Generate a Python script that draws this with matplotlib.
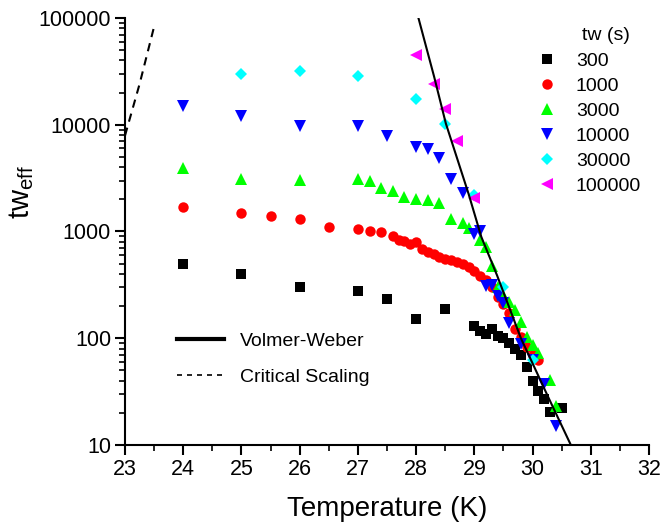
import numpy as np
import matplotlib
matplotlib.use('Agg')
import matplotlib.pyplot as plt
from matplotlib.ticker import FixedLocator, FixedFormatter, MultipleLocator, NullFormatter
from matplotlib.lines import Line2D

plt.rcParams['font.family'] = ['Liberation Sans', 'DejaVu Sans']
plt.rcParams['mathtext.fontset'] = 'custom'
plt.rcParams['mathtext.rm'] = 'Liberation Sans'

# waiting times tw (s) and their data
T300 = [24, 25, 26, 27, 27.5, 28, 28.5, 29.0, 29.1, 29.2, 29.3, 29.4, 29.5, 29.6,
        29.7, 29.8, 29.9, 30.0, 30.1, 30.2, 30.3, 30.5]
tw300 = [500, 400, 300, 275, 232, 150, 186, 131, 117, 110, 121, 106, 101, 91,
         79, 69, 54, 40, 32, 27, 20.5, 22]

T1000 = [24, 25, 25.5, 26, 26.5, 27, 27.2, 27.4, 27.6, 27.7, 27.8, 27.9, 28.0, 28.1,
         28.2, 28.3, 28.4, 28.5, 28.6, 28.7, 28.8, 28.9, 29.0, 29.1, 29.2, 29.3,
         29.4, 29.5, 29.6, 29.7, 29.8, 29.9, 30.0, 30.1]
tw1000 = [1700, 1500, 1400, 1300, 1100, 1050, 1010, 985, 900, 830, 810, 760, 790, 690,
          640, 610, 580, 550, 540, 520, 500, 465, 425, 385, 350, 300,
          243, 211, 172, 121, 102, 83, 69, 62]

T3000 = [24, 25, 26, 27, 27.2, 27.4, 27.6, 27.8, 28.0, 28.2, 28.4, 28.6, 28.8, 28.9,
         29.1, 29.2, 29.3, 29.4, 29.5, 29.6, 29.7, 29.8, 29.9, 30.0, 30.1, 30.3, 30.4]
tw3000 = [3900, 3100, 3050, 3100, 2950, 2560, 2420, 2110, 2000, 1960, 1850, 1320, 1200, 1090,
          830, 710, 475, 300, 252, 218, 182, 142, 102, 86, 72, 41, 23]

T10000 = [24, 25, 26, 27, 27.5, 28.0, 28.2, 28.4, 28.6, 28.8, 29.0, 29.1, 29.2, 29.3,
          29.4, 29.5, 29.6, 29.8, 30.0, 30.2, 30.4]
tw10000 = [15000, 12000, 9800, 9800, 7900, 6200, 5900, 4900, 3100, 2300, 950, 1010, 306, 313,
           247, 214, 139, 88, 63, 37, 15]

T30000 = [25, 26, 27, 28, 28.5, 29, 29.5, 30.0]
tw30000 = [30000, 32000, 28800, 17300, 10100, 2200, 300, 62]

T100000 = [28, 28.3, 28.5, 28.7, 29]
tw100000 = [45000, 24000, 14000, 7000, 2050]

# guide curves
T_vw = [28.04, 28.31, 28.51, 28.90, 29.12, 29.39, 29.80, 30.27, 30.65]
tw_vw = [100000, 28100, 10300, 2260, 890, 388, 100, 28, 10.2]
T_cs = [23.0, 23.25, 23.5]
tw_cs = [7900, 24000, 83000]

series = [
    (T300, tw300, '300', 's', 'black', 6.5),
    (T1000, tw1000, '1000', 'o', 'red', 7.5),
    (T3000, tw3000, '3000', '^', '#00ff00', 8),
    (T10000, tw10000, '10000', 'v', 'blue', 8),
    (T30000, tw30000, '30000', 'D', 'cyan', 6.5),
    (T100000, tw100000, '100000', '<', 'magenta', 8),
]

fig = plt.figure(figsize=(6.62, 5.25), dpi=100)
ax = fig.add_axes([0.1888, 0.1524, 0.7916, 0.8133])

handles = []
for T, tw, lab, m, c, ms in series:
    h, = ax.plot(T, tw, linestyle='none', marker=m, color=c, markersize=ms,
                 markeredgewidth=0, label=lab)
    handles.append(h)

vw, = ax.plot(T_vw, tw_vw, color='black', lw=1.5)
cs, = ax.plot(T_cs, tw_cs, color='black', lw=1.5, dashes=(4, 3))

ax.set_yscale('log')
ax.set_xlim(23, 32)
ax.set_ylim(10, 100000)
ax.spines['top'].set_color('none')
ax.spines['right'].set_color('none')
ax.spines['left'].set_linewidth(1.5)
ax.spines['bottom'].set_linewidth(1.5)

ax.xaxis.set_major_locator(MultipleLocator(1))
ax.xaxis.set_minor_locator(MultipleLocator(0.5))
yt = [10, 100, 1000, 10000, 100000]
ax.yaxis.set_major_locator(FixedLocator(yt))
ax.yaxis.set_major_formatter(FixedFormatter([str(v) for v in yt]))
minor = [k * 10 ** e for e in range(1, 5) for k in range(2, 10)]
ax.yaxis.set_minor_locator(FixedLocator(minor))
ax.yaxis.set_minor_formatter(NullFormatter())
ax.tick_params(which='major', direction='out', length=7, width=1.5, labelsize=15.5, pad=3)
ax.tick_params(which='minor', direction='out', length=4, width=1.2)
ax.xaxis.set_ticks_position('bottom')
ax.yaxis.set_ticks_position('left')

ax.set_xlabel('Temperature (K)', fontsize=20)
ax.xaxis.set_label_coords(0.5, -0.12)
fig.text(0.032, 0.634, r'tw$_{\rm eff}$', fontsize=21, rotation=90, ha='center', va='center')

leg1 = ax.legend(handles=handles, loc='upper left',
                 bbox_to_anchor=(0.786, 0.920), frameon=False, fontsize=14,
                 handlelength=1.0, handletextpad=1.0, labelspacing=0.38,
                 borderaxespad=0, borderpad=0)
ax.add_artist(leg1)
ax.text(0.918, 0.960, 'tw (s)', transform=ax.transAxes, fontsize=14,
        ha='center', va='center')

h_vw = Line2D([], [], color='black', lw=3)
h_cs = Line2D([], [], color='black', lw=1.2, dashes=(3, 3))
ax.legend(handles=[h_vw, h_cs], labels=['Volmer-Weber', 'Critical Scaling'],
          loc='upper left', bbox_to_anchor=(0.085, 0.283), frameon=False,
          fontsize=14, handlelength=2.4, handletextpad=0.8, labelspacing=0.95,
          borderaxespad=0)

plt.savefig('out.png', dpi=100)
plt.close()
